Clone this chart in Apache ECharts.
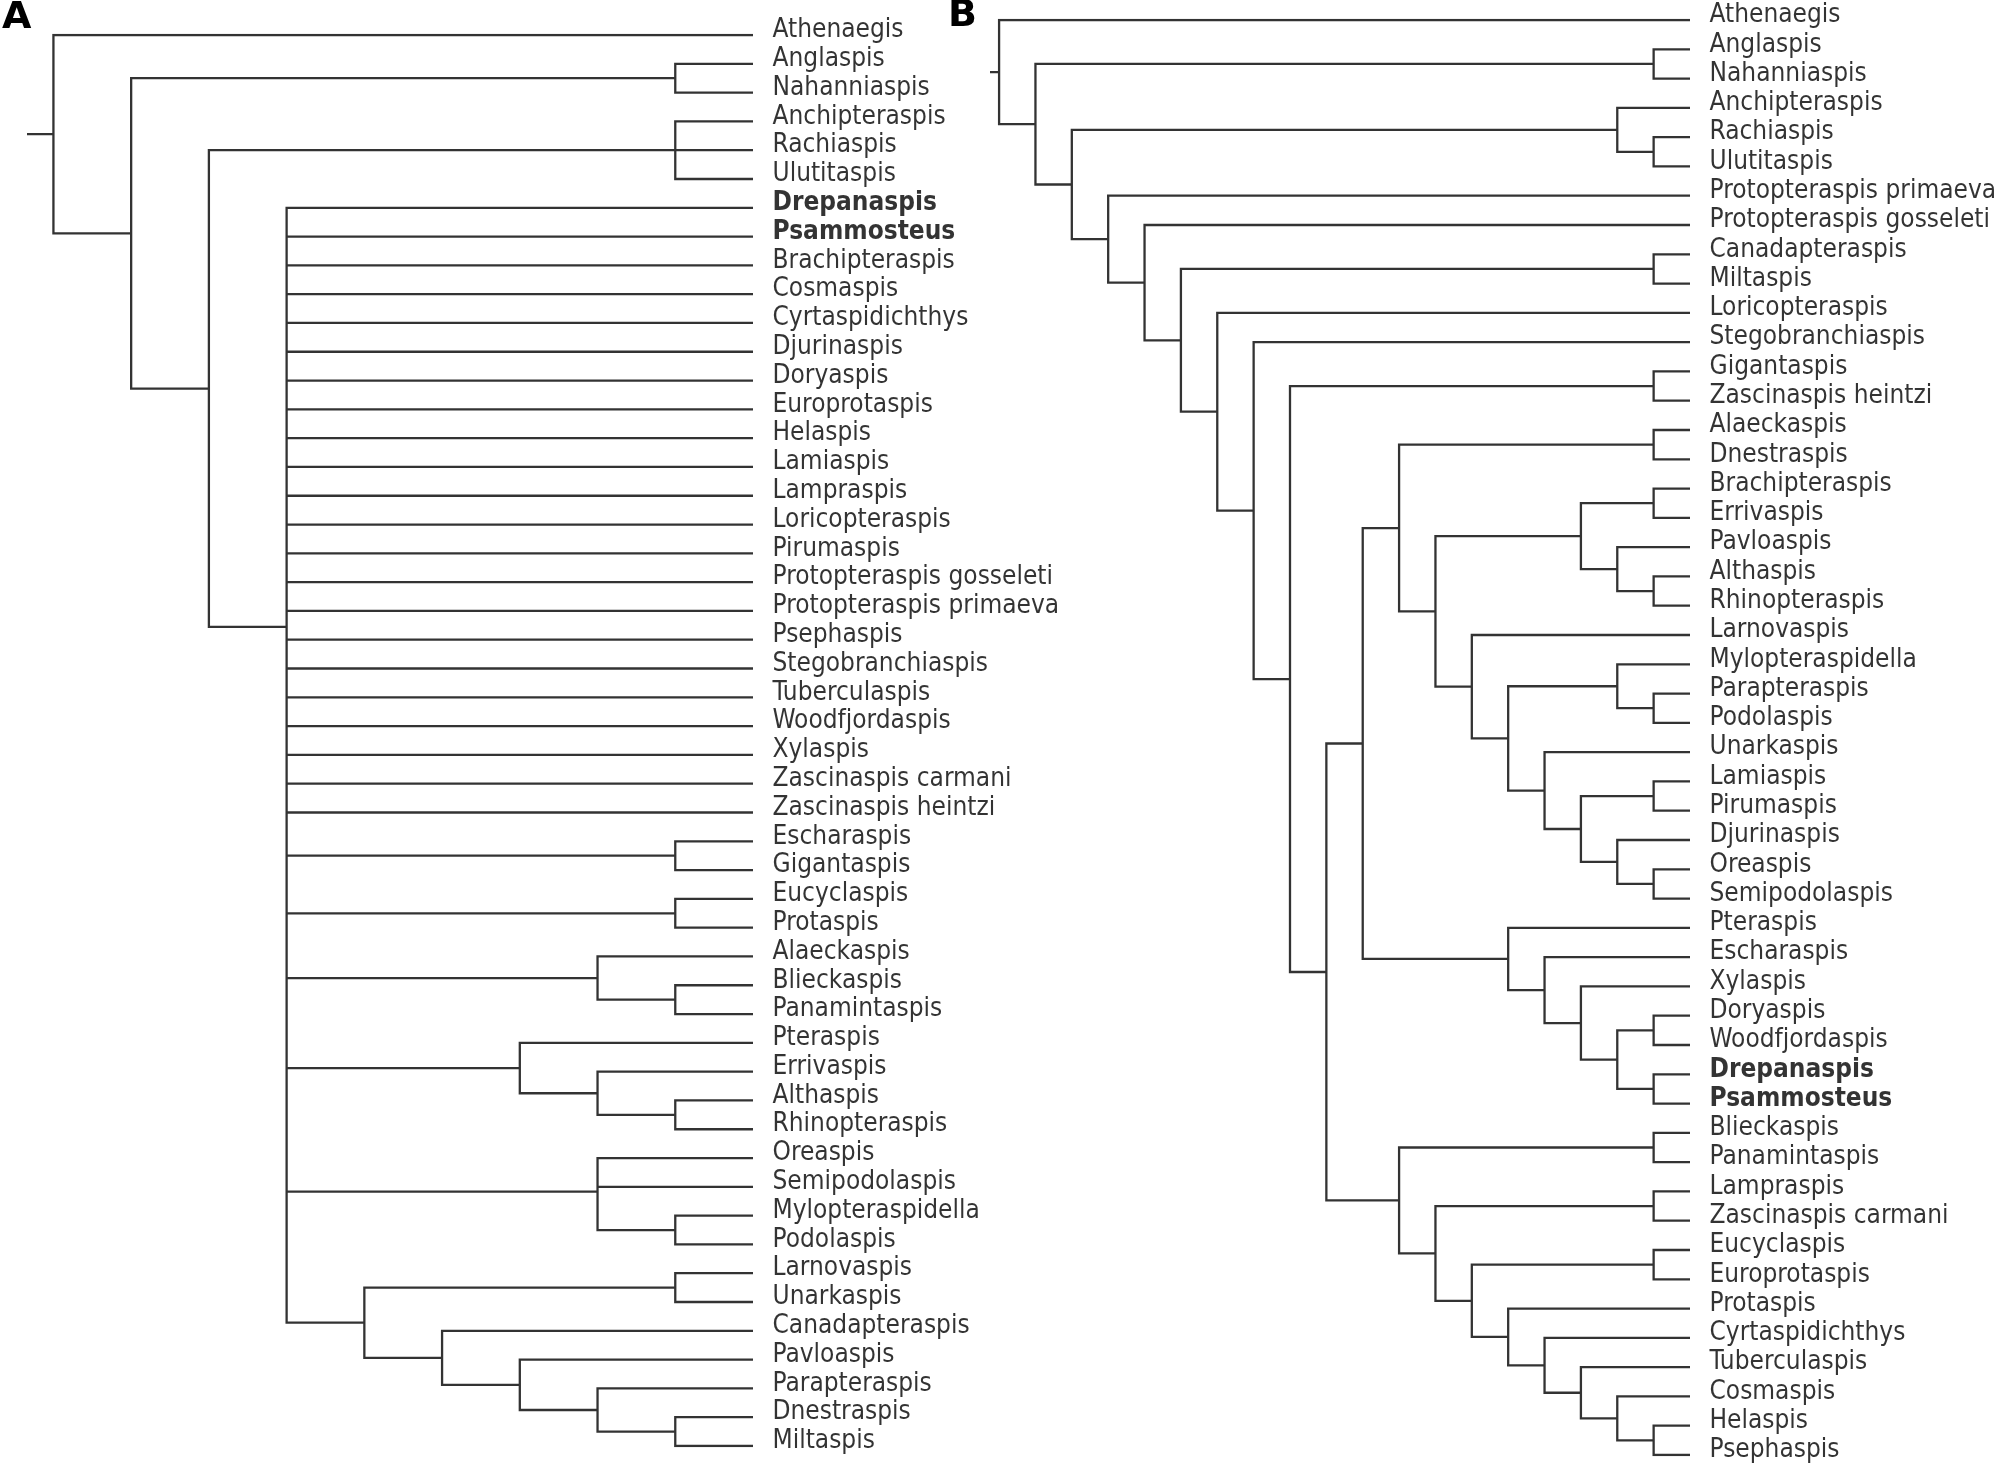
<!DOCTYPE html>
<html><head><meta charset="utf-8">
<script src="https://cdn.jsdelivr.net/npm/echarts@6/dist/echarts.min.js"></script>
<style>html,body{margin:0;padding:0;background:#fff}#chart{width:1995px;height:1468px}</style>
</head><body><div id="chart"></div>
<script>
// ---------------- DATA (tree topologies; leaf order = top-to-bottom order) ----------------
// Panel A
const cladeA_larno = [["Larnovaspis","Unarkaspis"],["Canadapteraspis",["Pavloaspis",["Parapteraspis",["Dnestraspis","Miltaspis"]]]]];
const cladeA_poly = ["Drepanaspis","Psammosteus","Brachipteraspis","Cosmaspis","Cyrtaspidichthys","Djurinaspis","Doryaspis","Europrotaspis","Helaspis","Lamiaspis","Lampraspis","Loricopteraspis","Pirumaspis","Protopteraspis gosseleti","Protopteraspis primaeva","Psephaspis","Stegobranchiaspis","Tuberculaspis","Woodfjordaspis","Xylaspis","Zascinaspis carmani","Zascinaspis heintzi",
  ["Escharaspis","Gigantaspis"],
  ["Eucyclaspis","Protaspis"],
  ["Alaeckaspis",["Blieckaspis","Panamintaspis"]],
  ["Pteraspis",["Errivaspis",["Althaspis","Rhinopteraspis"]]],
  ["Oreaspis","Semipodolaspis",["Mylopteraspidella","Podolaspis"]],
  cladeA_larno];
const treeA = ["Athenaegis",[["Anglaspis","Nahanniaspis"],[["Anchipteraspis","Rachiaspis","Ulutitaspis"],cladeA_poly]]];

// Panel B
const cladeB_pteraspis = ["Pteraspis",["Escharaspis",["Xylaspis",[["Doryaspis","Woodfjordaspis"],["Drepanaspis","Psammosteus"]]]]];
const cladeB_brach = [["Brachipteraspis","Errivaspis"],["Pavloaspis",["Althaspis","Rhinopteraspis"]]];
const cladeB_larno = ["Larnovaspis",[["Mylopteraspidella",["Parapteraspis","Podolaspis"]],["Unarkaspis",[["Lamiaspis","Pirumaspis"],["Djurinaspis",["Oreaspis","Semipodolaspis"]]]]]];
const cladeB_bottom = [["Blieckaspis","Panamintaspis"],[["Lampraspis","Zascinaspis carmani"],[["Eucyclaspis","Europrotaspis"],["Protaspis",["Cyrtaspidichthys",["Tuberculaspis",["Cosmaspis",["Helaspis","Psephaspis"]]]]]]]];
const cladeB_alaeck = [["Alaeckaspis","Dnestraspis"],[cladeB_brach,cladeB_larno]];
const cladeB_core = [[cladeB_alaeck,cladeB_pteraspis],cladeB_bottom];
const treeB = ["Athenaegis",[["Anglaspis","Nahanniaspis"],[["Anchipteraspis",["Rachiaspis","Ulutitaspis"]],["Protopteraspis primaeva",["Protopteraspis gosseleti",[["Canadapteraspis","Miltaspis"],["Loricopteraspis",["Stegobranchiaspis",[["Gigantaspis","Zascinaspis heintzi"],cladeB_core]]]]]]]]];

const boldTaxa = ["Drepanaspis","Psammosteus"];
const panelLetters = ["A","B"];

// ---------------- LAYOUT (cladogram: x = -height, y = leaf order / mean of children) ----------------
function layoutTree(tree, stub){
  let idx = 0; const leaves = []; const segs = [];
  function walk(n){
    if (typeof n === 'string'){ const nd = {name:n, y:idx++, h:0}; leaves.push(nd); return nd; }
    const kids = n.map(walk);
    const h = Math.max(...kids.map(k=>k.h)) + 1;
    const y = kids.reduce((s,k)=>s+k.y,0)/kids.length;
    return {h, y, kids};
  }
  const root = walk(tree);
  function emit(nd){
    if (!nd.kids) return;
    const x = -nd.h, f = nd.kids[0], l = nd.kids[nd.kids.length-1];
    segs.push([[-f.h,f.y],[x,f.y],[x,l.y],[-l.h,l.y]]);
    nd.kids.slice(1,-1).forEach(k=>segs.push([[x,k.y],[-k.h,k.y]]));
    nd.kids.forEach(emit);
  }
  emit(root);
  segs.push([[-root.h-stub,root.y],[-root.h,root.y]]);
  return {root, leaves, segs};
}

const panels = [
  {tree:treeA, stub:0.34, grid:{left:27, top:35, width:726, height:1411}, letter:{x:2, y:-1}},
  {tree:treeB, stub:0.25, grid:{left:990, top:20, width:700, height:1435}, letter:{x:948, y:-3}}
];

const FONT = "'DejaVu Sans Condensed', 'DejaVu Sans', sans-serif";
const option = {animation:false, backgroundColor:'#fff', grid:[], xAxis:[], yAxis:[], series:[], graphic:[]};

panels.forEach((p,i)=>{
  const L = layoutTree(p.tree, p.stub);
  option.grid.push(Object.assign({containLabel:false}, p.grid));
  option.xAxis.push({type:'value', gridIndex:i, min:-(L.root.h+p.stub), max:0, show:false, splitLine:{show:false}});
  option.yAxis.push({type:'value', gridIndex:i, min:0, max:L.leaves.length-1, inverse:true, show:false, splitLine:{show:false}});
  option.series.push({
    type:'lines', coordinateSystem:'cartesian2d', xAxisIndex:i, yAxisIndex:i, polyline:true, silent:true,
    lineStyle:{color:'#333333', width:2.3, opacity:1, join:'miter', cap:'butt'},
    data:L.segs.map(c=>({coords:c}))
  });
  option.series.push({
    type:'scatter', xAxisIndex:i, yAxisIndex:i, symbolSize:1, silent:true,
    itemStyle:{color:'rgba(0,0,0,0)'},
    label:{show:true, position:[20,-4], align:'left', verticalAlign:'middle', formatter:'{b}', color:'#000', fontFamily:FONT, fontSize:26},
    labelLayout:{hideOverlap:false},
    data:L.leaves.map(lf=>({name:lf.name, value:[0,lf.y],
      label: boldTaxa.includes(lf.name) ? {fontWeight:'bold'} : {fontWeight:'normal'}}))
  });
  option.graphic.push({type:'text', left:p.letter.x, top:p.letter.y,
    style:{text:panelLetters[i], font:"bold 38px 'DejaVu Sans', sans-serif", fill:'#000'}});
});

const chart = echarts.init(document.getElementById('chart'), null, {renderer:'canvas'});
chart.setOption(option);
</script></body></html>
